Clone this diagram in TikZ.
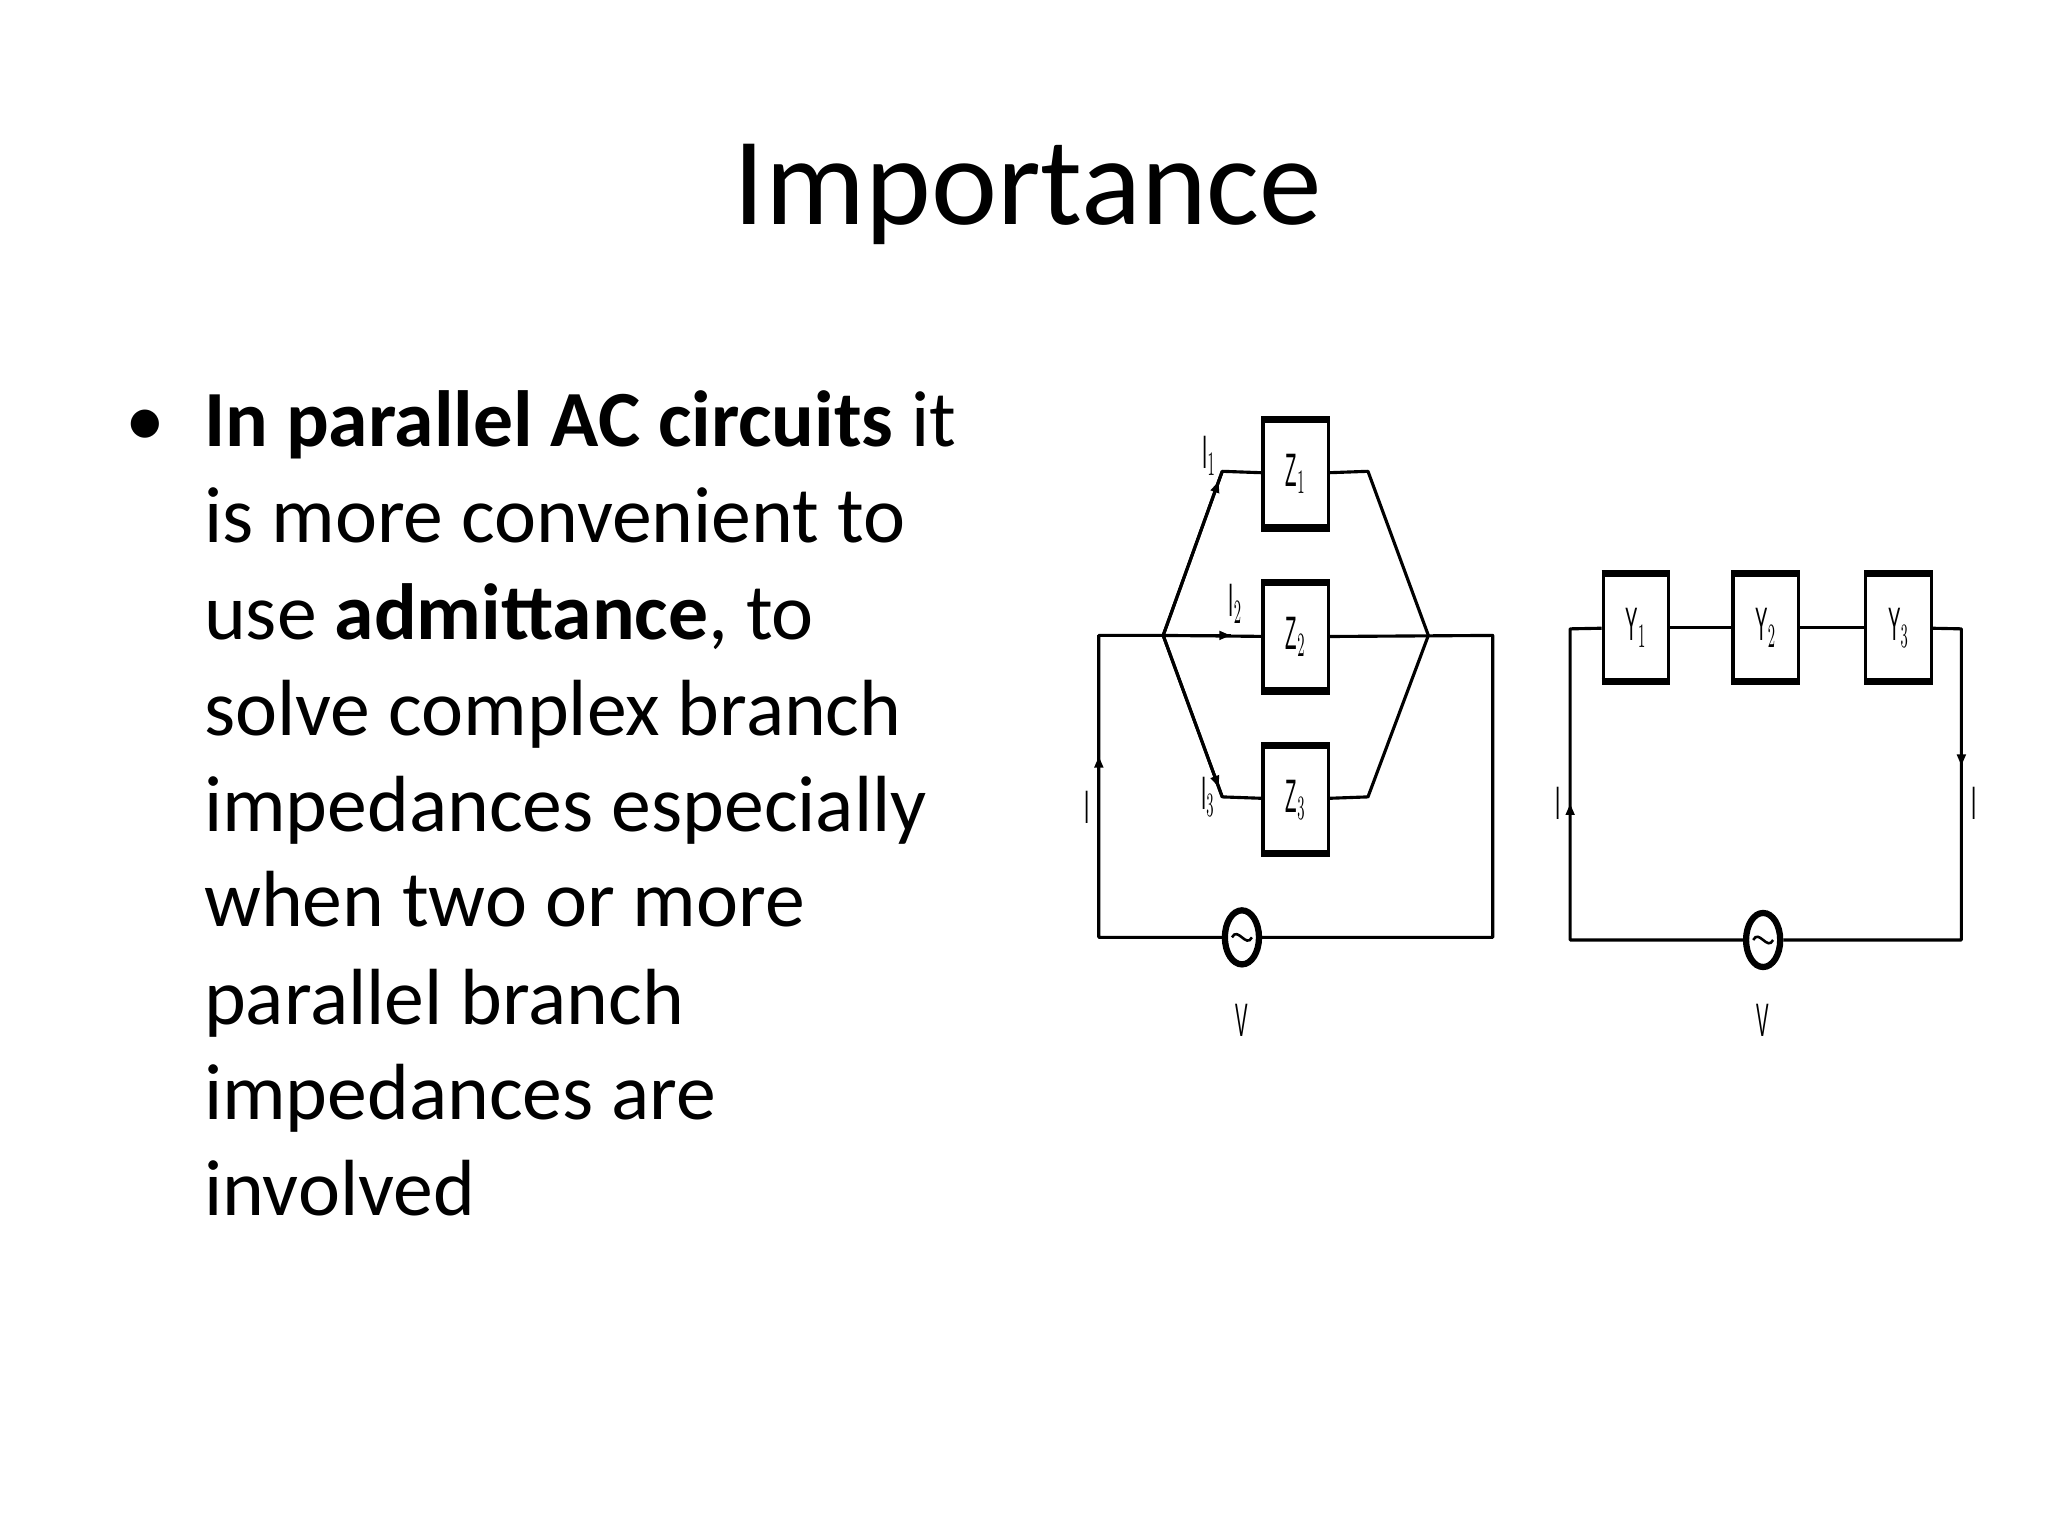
\documentclass[tikz,border=0pt]{standalone}
\usepackage{fontspec}
\setmainfont{Carlito}
\newfontfamily\lab{Liberation Sans}
\usetikzlibrary{arrows.meta,decorations.markings,shapes.geometric}
\begin{document}
\begin{tikzpicture}[x=0.4615pt,y=-0.4615pt,
  wire/.style={line width=1.1pt,line join=round},
  line/.style={anchor=base west,inner sep=0pt,font=\fontsize{28}{34}\selectfont},
  lbl/.style={inner sep=0pt,font=\lab\fontsize{11}{12}\selectfont},
  arr/.style={postaction={decorate},decoration={markings,mark=at position #1 with {\arrow{Triangle[length=4pt,width=3pt]}}}}]
\useasboundingbox (0,0) rectangle (1560,1170);
\node[inner sep=0pt,font=\fontsize{44}{50}\selectfont] (title) at (783,148) {Importance};
\node[line] (b) at (95,340) {•};
\node[line] (l1) at (155,340) {\textbf{In parallel AC circuits} it};
\node[line] (l2) at (155,413) {is more convenient to};
\node[line] (l3) at (155,487) {use \textbf{admittance}, to};
\node[line] (l4) at (155,560) {solve complex branch};
\node[line] (l5) at (155,633) {impedances especially};
\node[line] (l6) at (155,706) {when two or more};
\node[line] (l7) at (155,780) {parallel branch};
\node[line] (l8) at (155,853) {impedances are};
\node[line] (l9) at (155,926) {involved};
% helper for boxes
\newcommand{\zbox}[4]{% name, cx, cy, label
  \node[draw,line width=1.1pt,minimum width=23pt,minimum height=37pt,inner sep=0pt,fill=white,lbl] (#1) at (#2,#3) {\scalebox{0.6}[1.5]{#4}};
  \draw[line width=2.6pt] (#1.north west) -- (#1.north east);
  \draw[line width=2.6pt] (#1.south west) -- (#1.south east);}
% circuit 1
\coordinate (tl) at (837,484); \coordinate (tr) at (1137,484);
\coordinate (bl) at (837,714); \coordinate (br) at (1137,714);
\coordinate (fl) at (886,484); \coordinate (fr) at (1088,484);
\coordinate (a1) at (931,359); \coordinate (b1) at (1042,359);
\coordinate (a3) at (931,607); \coordinate (b3) at (1042,607);
\zbox{z1}{987}{361}{Z$_1$}
\zbox{z2}{987}{485}{Z$_2$}
\zbox{z3}{987}{609}{Z$_3$}
\node[draw,line width=2.2pt,ellipse,minimum width=12pt,minimum height=19pt,inner sep=0pt] (s1) at (946,714) {};
\draw[line width=0.9pt] ([xshift=-3.5pt]s1.center) .. controls ([xshift=-1.5pt,yshift=4pt]s1.center) and ([xshift=1.5pt,yshift=-4pt]s1.center) .. ([xshift=3.5pt]s1.center);
\draw[wire] (s1) -- (bl) -- (tl) -- (fl) -- (z2);
\draw[wire,arr=0.99] (fl) -- (938,484);
\draw[wire] (z2) -- (tr) -- (br) -- (s1);
\draw[wire] (fl) -- (a1) -- (z1) -- (b1) -- (fr) -- (b3) -- (z3) -- (a3) -- (fl);
\draw[wire,arr=0.94] (fl) -- (a1);
\draw[wire,arr=0.94] (fl) -- (a3);
\draw[wire,arr=0.6] (bl) -- (tl);
\node[lbl] (i0) at (828,615) {\scalebox{0.6}[1.5]{I}};
\node[lbl] (i1) at (921,347) {\scalebox{0.6}[1.5]{I$_1$}};
\node[lbl] (i2) at (941,460) {\scalebox{0.6}[1.5]{I$_2$}};
\node[lbl] (i3) at (920,607) {\scalebox{0.6}[1.5]{I$_3$}};
\node[lbl] (v1) at (946,777) {\scalebox{0.6}[1.5]{V}};
% circuit 2
\coordinate (tl2) at (1196,479); \coordinate (tr2) at (1494,479);
\coordinate (bl2) at (1196,716); \coordinate (br2) at (1494,716);
\zbox{y1}{1246}{478}{Y$_1$}
\zbox{y2}{1345}{478}{Y$_2$}
\zbox{y3}{1446}{478}{Y$_3$}
\node[draw,line width=2.2pt,ellipse,minimum width=12pt,minimum height=19pt,inner sep=0pt] (s2) at (1343,716) {};
\draw[line width=0.9pt] ([xshift=-3.5pt]s2.center) .. controls ([xshift=-1.5pt,yshift=4pt]s2.center) and ([xshift=1.5pt,yshift=-4pt]s2.center) .. ([xshift=3.5pt]s2.center);
\draw[wire,arr=0.6] (s2) -- (bl2) -- (tl2) -- (y1);
\draw[wire] (y1) -- (y2) -- (y3);
\draw[wire,arr=0.32] (y3) -- (tr2) -- (br2) -- (s2);
\node[lbl] (i4) at (1187,612) {\scalebox{0.6}[1.5]{I}};
\node[lbl] (i5) at (1504,612) {\scalebox{0.6}[1.5]{I}};
\node[lbl] (v2) at (1343,777) {\scalebox{0.6}[1.5]{V}};
\end{tikzpicture}
\end{document}
